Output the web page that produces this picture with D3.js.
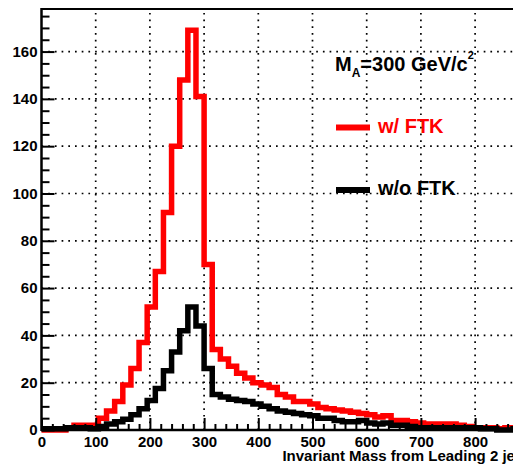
<!DOCTYPE html>
<html>
<head>
<meta charset="utf-8">
<script src="https://cdn.jsdelivr.net/npm/d3@7"></script>
<style>
  html, body { margin: 0; padding: 0; background: #fff; overflow: hidden; }
  svg { display: block; font-family: "Liberation Sans", Arial, Helvetica, sans-serif; font-weight: bold; }
</style>
</head>
<body>
<div id="container"></div>
<script>
// invariant mass bins (GeV), 15 GeV wide
const binEdges = [0, 15, 30, 45, 60, 75, 90, 105, 120, 135, 150, 165, 180, 195, 210, 225, 240, 255, 270, 285,
  300, 315, 330, 345, 360, 375, 390, 405, 420, 435, 450, 465, 480, 495, 510, 525, 540, 555, 570, 585,
  600, 615, 630, 645, 660, 675, 690, 705, 720, 735, 750, 765, 780, 795, 810, 825, 840, 855, 870, 885];
const binWidth = 15;

const withFTK = [0, 0, 0, 1, 2, 2, 2, 5, 8, 12,
  19, 26, 37, 52, 67, 92, 120, 148, 169, 141,
  70, 34, 30, 27, 24, 22, 20, 19, 18, 15,
  14, 12, 12, 11, 9.5, 9, 8.5, 8, 7.5, 7,
  6.5, 5.5, 6, 4, 4, 3.5, 3, 2.5, 2.5, 2.5,
  2.5, 2, 1.5, 1, 1, 1, 0.5, 1, 0.5, 0.5];

const withoutFTK = [0.5, 0.5, 0.5, 1, 1, 1, 0.5, 1.5, 2.5, 3.5,
  4.5, 6.5, 9, 12.5, 17.5, 25, 33, 42, 52, 44,
  26, 15, 14, 13, 12.5, 12, 11, 10, 9, 8,
  7.5, 7, 6.5, 6, 5, 5, 4, 3.5, 3.5, 4,
  3, 2.5, 3, 2, 2, 1.5, 1, 1, 1, 1,
  1, 1, 1, 1, 0.5, 0.5, 0, 0, 0.5, 0.5];

const xTicks = [0, 100, 200, 300, 400, 500, 600, 700, 800];
const yTicks = [0, 20, 40, 60, 80, 100, 120, 140, 160];
const seriesLabels = ["w/ FTK", "w/o FTK"];
const xTitle = "Invariant Mass from Leading 2 jets";

const width = 513;
const height = 470;

const x = d3.scaleLinear().domain([0, 900]).range([41.5, 529.3]);
const y = d3.scaleLinear().domain([0, 178]).range([430, 9]);

const svg = d3.select("#container")
  .append("svg")
  .attr("width", width)
  .attr("height", height);

// dotted grid
const grid = svg.append("g")
  .attr("stroke", "#000")
  .attr("stroke-width", 1.7)
  .attr("stroke-dasharray", "1.7 5");

grid.selectAll("line.v")
  .data(xTicks.slice(1))
  .join("line")
  .attr("x1", d => x(d)).attr("x2", d => x(d))
  .attr("y1", y(0)).attr("y2", y(178));

grid.selectAll("line.h")
  .data(yTicks.slice(1))
  .join("line")
  .attr("x1", x(0)).attr("x2", x(900))
  .attr("y1", d => y(d)).attr("y2", d => y(d));

// histograms
function stepPoints(vals) {
  const pts = binEdges.map((e, i) => [e, vals[i]]);
  pts.push([binEdges[binEdges.length - 1] + binWidth, vals[vals.length - 1]]);
  return pts;
}

const step = d3.line()
  .x(d => x(d[0]))
  .y(d => y(d[1]))
  .curve(d3.curveStepAfter);

svg.append("path")
  .attr("d", step(stepPoints(withFTK)))
  .attr("fill", "none")
  .attr("stroke", "#ff0000")
  .attr("stroke-width", 5.5)
  .attr("stroke-linejoin", "miter");

svg.append("path")
  .attr("d", step(stepPoints(withoutFTK)))
  .attr("fill", "none")
  .attr("stroke", "#000")
  .attr("stroke-width", 5.5)
  .attr("stroke-linejoin", "miter");

// axes
svg.append("g")
  .attr("transform", `translate(${x(0)},0)`)
  .call(d3.axisLeft(y).tickValues(yTicks).tickSizeInner(-13).tickSizeOuter(0).tickPadding(4));

svg.append("g")
  .attr("transform", `translate(${x(0)},0)`)
  .call(d3.axisLeft(y).tickValues(d3.range(5, 178, 5).filter(v => v % 20 !== 0))
    .tickSizeInner(-8).tickSizeOuter(0).tickFormat(""));

svg.append("g")
  .attr("transform", `translate(0,${y(0)})`)
  .call(d3.axisBottom(x).tickValues(xTicks).tickSizeInner(-12).tickSizeOuter(0).tickPadding(6));

svg.append("g")
  .attr("transform", `translate(0,${y(0)})`)
  .call(d3.axisBottom(x).tickValues(d3.range(20, 900, 20).filter(v => v % 100 !== 0))
    .tickSizeInner(-6).tickSizeOuter(0).tickFormat(""));

svg.selectAll(".domain").remove();
svg.selectAll(".tick line").attr("stroke", "#000").attr("stroke-width", 2);
svg.selectAll(".tick text")
  .attr("fill", "#000")
  .style("font-size", "15px")
  .style("font-family", "'Liberation Sans', Arial, sans-serif")
  .style("font-weight", "bold");

// frame
svg.append("line")
  .attr("x1", x(0)).attr("x2", x(0))
  .attr("y1", y(178) - 1).attr("y2", y(0) + 1)
  .attr("stroke", "#000").attr("stroke-width", 2.5);
svg.append("line")
  .attr("x1", x(0)).attr("x2", x(900))
  .attr("y1", y(0)).attr("y2", y(0))
  .attr("stroke", "#000").attr("stroke-width", 2.5);
svg.append("line")
  .attr("x1", x(0)).attr("x2", x(900))
  .attr("y1", y(178)).attr("y2", y(178))
  .attr("stroke", "#000").attr("stroke-width", 2);

// axis title, right aligned at axis end
svg.append("text")
  .attr("x", x(900) - 1)
  .attr("y", 461)
  .attr("text-anchor", "end")
  .style("font-size", "15px")
  .text(xTitle);

// mass label
const mass = svg.append("text")
  .attr("x", 335)
  .attr("y", 71)
  .style("font-size", "20px");
mass.append("tspan").text("M");
mass.append("tspan").attr("dy", 6).style("font-size", "12px").text("A");
mass.append("tspan").attr("dy", -6).text("=300 GeV/c");
mass.append("tspan").attr("dy", -12).style("font-size", "11px").text("2");

// legend
const legendColors = ["#ff0000", "#000"];
const legendY = [127.5, 190];
const legendBase = [133, 195];
seriesLabels.forEach((label, i) => {
  svg.append("line")
    .attr("x1", 336).attr("x2", 370)
    .attr("y1", legendY[i]).attr("y2", legendY[i])
    .attr("stroke", legendColors[i])
    .attr("stroke-width", 6);
  svg.append("text")
    .attr("x", 378)
    .attr("y", legendBase[i])
    .attr("fill", legendColors[i])
    .style("font-size", "20px")
    .text(label);
});
</script>
</body>
</html>
